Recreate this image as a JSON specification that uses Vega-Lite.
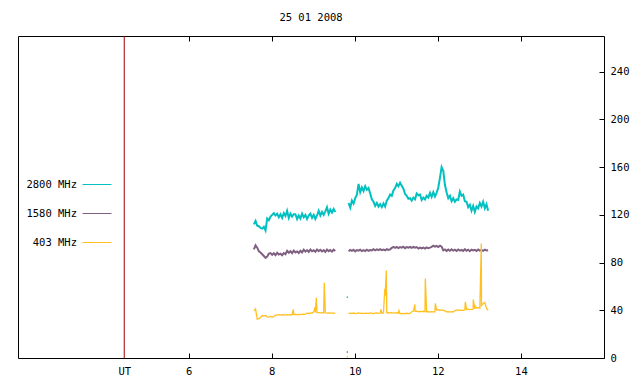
{
  "$schema": "https://vega.github.io/schema/vega-lite/v6.json",
  "width": 586,
  "height": 322,
  "autosize": "none",
  "padding": {"left": 18, "top": 36, "right": 36, "bottom": 26},
  "background": "white",
  "title": {"text": "25 01 2008", "font": "DejaVu Sans Mono", "fontSize": 10.5, "fontWeight": "normal", "color": "black", "offset": 12, "anchor": "middle"},
  "config": {
    "view": {"stroke": "black", "strokeWidth": 1},
    "font": "DejaVu Sans Mono",
    "axis": {"grid": false, "domain": false, "labelFont": "DejaVu Sans Mono", "labelFontSize": 10.5, "labelColor": "black", "tickColor": "black", "title": null}
  },
  "datasets": {
    "series": [
      {"t":7.57,"g":1,"a":112,"b":91,"c":39.5},
      {"t":7.61,"g":1,"a":115,"b":94.5,"c":41.3},
      {"t":7.65,"g":1,"a":111,"b":92.5,"c":32.5},
      {"t":7.69,"g":1,"a":110.5,"b":89.5,"c":33},
      {"t":7.73,"g":1,"a":109,"b":88.5,"c":34},
      {"t":7.77,"g":1,"a":108.5,"b":87,"c":35.6},
      {"t":7.81,"g":1,"a":110,"b":85.5,"c":35.2},
      {"t":7.85,"g":1,"a":107,"b":84,"c":35.8},
      {"t":7.89,"g":1,"a":117,"b":85,"c":34.5},
      {"t":7.93,"g":1,"a":115.5,"b":87.5,"c":34.3},
      {"t":7.97,"g":1,"a":118.5,"b":88,"c":34.8},
      {"t":8.01,"g":1,"a":120,"b":86.5,"c":34.4},
      {"t":8.05,"g":1,"a":121.5,"b":87.8,"c":34.6},
      {"t":8.09,"g":1,"a":119.5,"b":86.3,"c":36.2},
      {"t":8.13,"g":1,"a":121,"b":88.2,"c":36},
      {"t":8.17,"g":1,"a":118,"b":86.8,"c":36.3},
      {"t":8.21,"g":1,"a":120.5,"b":87.5,"c":36.1},
      {"t":8.25,"g":1,"a":117.5,"b":86.2,"c":36.4},
      {"t":8.29,"g":1,"a":121.5,"b":88,"c":36.2},
      {"t":8.33,"g":1,"a":119,"b":87,"c":36},
      {"t":8.37,"g":1,"a":123.5,"b":89.8,"c":36.3},
      {"t":8.41,"g":1,"a":117.5,"b":88.2,"c":36.1},
      {"t":8.45,"g":1,"a":121,"b":89.5,"c":36.4},
      {"t":8.49,"g":1,"a":118.5,"b":88,"c":36.2},
      {"t":8.519,"g":1,"c":40.7},
      {"t":8.53,"g":1,"a":120.5,"b":90,"c":36.4},
      {"t":8.57,"g":1,"a":120.5,"b":88.5,"c":36.5},
      {"t":8.61,"g":1,"a":116.5,"b":89.3,"c":36.3},
      {"t":8.65,"g":1,"a":119.5,"b":88.1,"c":36.6},
      {"t":8.69,"g":1,"a":117,"b":89.9,"c":36.4},
      {"t":8.73,"g":1,"a":121,"b":88.6,"c":36.7},
      {"t":8.77,"g":1,"a":118,"b":90.8,"c":36.5},
      {"t":8.81,"g":1,"a":120,"b":89.2,"c":36.8},
      {"t":8.85,"g":1,"a":116.5,"b":90.5,"c":37.6},
      {"t":8.89,"g":1,"a":119.5,"b":89,"c":37.4},
      {"t":8.93,"g":1,"a":121,"b":91,"c":37.8},
      {"t":8.97,"g":1,"a":117.5,"b":89.5,"c":37.5},
      {"t":9.01,"g":1,"a":120,"b":90.3,"c":38.7},
      {"t":9.042,"g":1,"c":42.6},
      {"t":9.05,"g":1,"a":116.5,"b":89.1,"c":38.2},
      {"t":9.073,"g":1,"c":50.5},
      {"t":9.09,"g":1,"a":119.5,"b":90.9,"c":38},
      {"t":9.13,"g":1,"a":123.5,"b":89.6,"c":38},
      {"t":9.17,"g":1,"a":119.5,"b":90.7,"c":37.8},
      {"t":9.21,"g":1,"a":122.5,"b":89.3,"c":38.1},
      {"t":9.25,"g":1,"a":120,"b":90.4,"c":37.9},
      {"t":9.265,"g":1,"c":63},
      {"t":9.29,"g":1,"a":123,"b":88.9,"c":37.9},
      {"t":9.33,"g":1,"a":126.5,"b":91,"c":37.7},
      {"t":9.37,"g":1,"a":121,"b":89.6,"c":37.9},
      {"t":9.41,"g":1,"a":124.5,"b":90.5,"c":37.6},
      {"t":9.45,"g":1,"a":122,"b":89.2,"c":37.8},
      {"t":9.49,"g":1,"a":125,"b":90.8,"c":37.5},
      {"t":9.53,"g":1,"a":122.5,"b":89.7,"c":37.7},
      {"t":9.85,"g":2,"a":130,"b":89.5,"c":37.3},
      {"t":9.89,"g":2,"a":126,"b":90.6,"c":37.6},
      {"t":9.93,"g":2,"a":132,"b":89.8,"c":37.4},
      {"t":9.97,"g":2,"a":129.5,"b":90.7,"c":37.7},
      {"t":10.01,"g":2,"a":134,"b":89.4,"c":37.2},
      {"t":10.05,"g":2,"a":137,"b":90.5,"c":37.5},
      {"t":10.09,"g":2,"a":146,"b":90,"c":37.8},
      {"t":10.13,"g":2,"a":139,"b":90.8,"c":37.4},
      {"t":10.17,"g":2,"a":143,"b":89.6,"c":37.6},
      {"t":10.21,"g":2,"a":140,"b":90.4,"c":37.3},
      {"t":10.25,"g":2,"a":144,"b":89.7,"c":37.7},
      {"t":10.29,"g":2,"a":141,"b":90.8,"c":37.5},
      {"t":10.33,"g":2,"a":142.5,"b":89.9,"c":37.4},
      {"t":10.37,"g":2,"a":138,"b":90.5,"c":37.8},
      {"t":10.41,"g":2,"a":133,"b":90.2,"c":37.5},
      {"t":10.45,"g":2,"a":131,"b":91.2,"c":37.3},
      {"t":10.49,"g":2,"a":127.5,"b":90.3,"c":37.6},
      {"t":10.53,"g":2,"a":130,"b":91.1,"c":37.9},
      {"t":10.57,"g":2,"a":127,"b":90.4,"c":37.5},
      {"t":10.61,"g":2,"a":129,"b":91.3,"c":37.7},
      {"t":10.63,"g":2,"c":40.7},
      {"t":10.65,"g":2,"a":126.5,"b":90.5,"c":37.6},
      {"t":10.69,"g":2,"a":129.5,"b":91,"c":37.8},
      {"t":10.722,"g":2,"c":58},
      {"t":10.73,"g":2,"a":127,"b":90.2,"c":52},
      {"t":10.758,"g":2,"c":73.4},
      {"t":10.77,"g":2,"a":132,"b":91.2,"c":37.9},
      {"t":10.81,"g":2,"a":134,"b":90.6,"c":38},
      {"t":10.85,"g":2,"a":137,"b":91.1,"c":37.8},
      {"t":10.89,"g":2,"a":136,"b":92.3,"c":38.1},
      {"t":10.93,"g":2,"a":140.5,"b":93.1,"c":37.7},
      {"t":10.97,"g":2,"a":142.5,"b":92.4,"c":37.9},
      {"t":11.01,"g":2,"a":146,"b":93.2,"c":38},
      {"t":11.05,"g":2,"a":144,"b":92.2,"c":37.5},
      {"t":11.064,"g":2,"c":39.8},
      {"t":11.09,"g":2,"a":147,"b":93,"c":37.3},
      {"t":11.13,"g":2,"a":144.5,"b":92.5,"c":37.1},
      {"t":11.17,"g":2,"a":142,"b":93.3,"c":37.4},
      {"t":11.21,"g":2,"a":137.5,"b":92.1,"c":37.2},
      {"t":11.25,"g":2,"a":136,"b":93,"c":37.5},
      {"t":11.29,"g":2,"a":133.5,"b":92.6,"c":37.2},
      {"t":11.33,"g":2,"a":134,"b":93.2,"c":37.4},
      {"t":11.37,"g":2,"a":132,"b":92.3,"c":38.8},
      {"t":11.41,"g":2,"a":134.5,"b":93.1,"c":39.3},
      {"t":11.447,"g":2,"c":44.9},
      {"t":11.45,"g":2,"a":133,"b":92.5,"c":39.2},
      {"t":11.49,"g":2,"a":138,"b":93,"c":39.2},
      {"t":11.53,"g":2,"a":136.5,"b":91.8,"c":38.8},
      {"t":11.57,"g":2,"a":137,"b":92.6,"c":39.1},
      {"t":11.61,"g":2,"a":132.5,"b":91.9,"c":38.9},
      {"t":11.65,"g":2,"a":134.5,"b":92.5,"c":39.2},
      {"t":11.69,"g":2,"a":133,"b":91.7,"c":39},
      {"t":11.697,"g":2,"c":66.7},
      {"t":11.73,"g":2,"a":136,"b":92.7,"c":38.7},
      {"t":11.77,"g":2,"a":134.5,"b":92,"c":38.9},
      {"t":11.81,"g":2,"a":138.5,"b":92.5,"c":38.5},
      {"t":11.85,"g":2,"a":135,"b":93.2,"c":38.8},
      {"t":11.89,"g":2,"a":139,"b":94.1,"c":38.6},
      {"t":11.93,"g":2,"a":135.5,"b":93.3,"c":38.7},
      {"t":11.938,"g":2,"c":45.7},
      {"t":11.97,"g":2,"a":138.5,"b":94,"c":40.2},
      {"t":12.01,"g":2,"a":143,"b":93.1,"c":40.5},
      {"t":12.05,"g":2,"a":151,"b":94.2,"c":40},
      {"t":12.09,"g":2,"a":160,"b":93.4,"c":40.4},
      {"t":12.13,"g":2,"a":157,"b":90.3,"c":40.1},
      {"t":12.17,"g":2,"a":145,"b":91,"c":39.5},
      {"t":12.21,"g":2,"a":139,"b":89.8,"c":38.7},
      {"t":12.25,"g":2,"a":134,"b":90.9,"c":38.9},
      {"t":12.29,"g":2,"a":136,"b":89.9,"c":38.5},
      {"t":12.33,"g":2,"a":131.5,"b":91.1,"c":38.8},
      {"t":12.37,"g":2,"a":134,"b":90,"c":38.6},
      {"t":12.41,"g":2,"a":131,"b":90.8,"c":39.8},
      {"t":12.45,"g":2,"a":133,"b":89.7,"c":40.1},
      {"t":12.49,"g":2,"a":132.5,"b":91,"c":40.3},
      {"t":12.53,"g":2,"a":139.5,"b":90.1,"c":39.9},
      {"t":12.57,"g":2,"a":136,"b":90.7,"c":40.2},
      {"t":12.61,"g":2,"a":137,"b":89.8,"c":40},
      {"t":12.65,"g":2,"a":131.5,"b":91.2,"c":40.4},
      {"t":12.661,"g":2,"c":47.1},
      {"t":12.69,"g":2,"a":131,"b":90,"c":40.7},
      {"t":12.73,"g":2,"a":126.5,"b":90.8,"c":40.9},
      {"t":12.77,"g":2,"a":128.5,"b":89.6,"c":40.5},
      {"t":12.81,"g":2,"a":123.5,"b":90.9,"c":40.8},
      {"t":12.85,"g":2,"a":127.5,"b":90.2,"c":41},
      {"t":12.853,"g":2,"c":49},
      {"t":12.89,"g":2,"a":122.5,"b":90.7,"c":41.2},
      {"t":12.901,"g":2,"c":43.4},
      {"t":12.93,"g":2,"a":127,"b":89.8,"c":42},
      {"t":12.97,"g":2,"a":125.5,"b":91,"c":42.3},
      {"t":13.01,"g":2,"a":130,"b":90,"c":41.8},
      {"t":13.046,"g":2,"c":96},
      {"t":13.05,"g":2,"a":127,"b":90.6,"c":44},
      {"t":13.09,"g":2,"a":131,"b":89.9,"c":45.7},
      {"t":13.13,"g":2,"a":125.5,"b":90.8,"c":46.5},
      {"t":13.17,"g":2,"a":129,"b":90.1,"c":41.5},
      {"t":13.21,"g":2,"a":123.5,"b":90.4,"c":40}
    ],
    "marker": [{"t": 4.448}],
    "dots": [
      {"t": 9.82, "k": "a", "v": 51},
      {"t": 9.82, "k": "b", "v": 5},
      {"t": 9.82, "k": "c", "v": 1}
    ]
  },
  "layer": [
    {
      "data": {"name": "series"},
      "transform": [
        {"fold": ["a", "b", "c"], "as": ["k", "v"]},
        {"filter": "isValid(datum.v) && datum.k != 'c'"}
      ],
      "mark": {"type": "line", "strokeWidth": 2},
      "encoding": {
        "x": {"field": "t", "type": "quantitative",
          "scale": {"domain": [1.89, 16], "nice": false, "zero": false},
          "axis": {"orient": "bottom", "values": [4.448, 6, 8, 10, 12, 14], "labelExpr": "datum.value < 5 ? 'UT' : datum.label", "tickSize": -5, "labelPadding": 13,
            "tickOpacity": {"condition": {"test": "datum.value < 5", "value": 0}, "value": 1}}},
        "y": {"field": "v", "type": "quantitative",
          "scale": {"domain": [0, 270], "nice": false},
          "axis": {"orient": "right", "values": [0, 40, 80, 120, 160, 200, 240], "tickSize": -5, "labelPadding": 11}},
        "color": {"field": "k", "type": "nominal",
          "scale": {"domain": ["a", "b", "c"], "range": ["#00c0c0", "#806080", "#ffc020"]},
          "legend": {"orient": "none", "legendX": 64, "legendY": 133.5, "title": null, "symbolType": "stroke", "symbolSize": 841, "symbolStrokeWidth": 1,
            "labelAlign": "right", "labelOffset": -35, "labelFont": "DejaVu Sans Mono", "labelFontSize": 10.5, "labelColor": "black", "rowPadding": 8, "padding": 0,
            "labelExpr": "datum.label == 'a' ? '2800 MHz' : datum.label == 'b' ? '1580 MHz' : '403 MHz'"}},
        "detail": {"field": "g"}
      }
    },
    {
      "data": {"name": "series"},
      "transform": [
        {"fold": ["a", "b", "c"], "as": ["k", "v"]},
        {"filter": "isValid(datum.v) && datum.k == 'c'"}
      ],
      "mark": {"type": "line", "strokeWidth": 1.3},
      "encoding": {
        "x": {"field": "t", "type": "quantitative", "axis": null},
        "y": {"field": "v", "type": "quantitative"},
        "color": {"field": "k", "type": "nominal"},
        "detail": {"field": "g"}
      }
    },
    {
      "data": {"name": "marker"},
      "mark": {"type": "rule", "color": "#a00000", "strokeWidth": 1},
      "encoding": {
        "x": {"field": "t", "type": "quantitative",
          "axis": {"orient": "top", "values": [6, 8, 10, 12, 14], "labels": false, "tickSize": -5}}
      }
    },
    {
      "data": {"name": "dots"},
      "mark": {"type": "square", "size": 2, "opacity": 1},
      "encoding": {
        "x": {"field": "t", "type": "quantitative", "axis": null},
        "y": {"field": "v", "type": "quantitative"},
        "color": {"field": "k", "type": "nominal"}
      }
    }
  ],
  "resolve": {"axis": {"x": "independent"}}
}
